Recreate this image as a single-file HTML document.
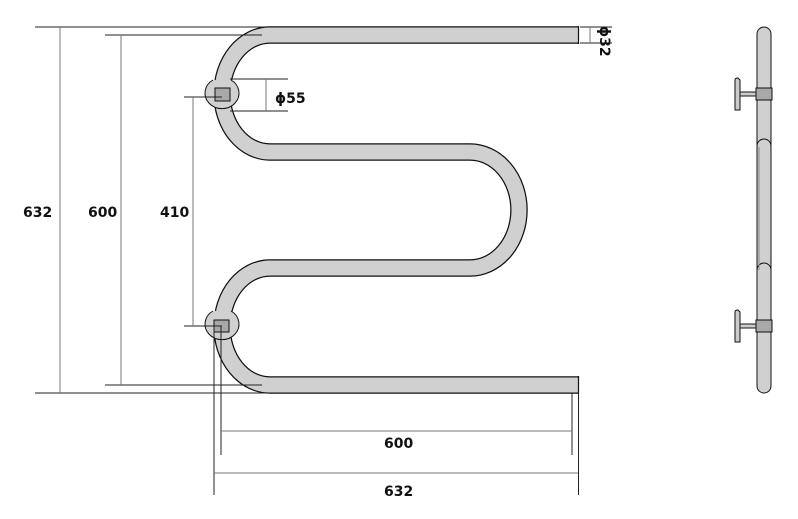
<!DOCTYPE html>
<html><head><style>
html,body{margin:0;padding:0;background:#fff;}
svg{display:block;}
text{font-family:"DejaVu Sans","Liberation Sans",sans-serif;font-weight:bold;font-size:14px;fill:#111;}
</style></head><body>
<svg width="798" height="519" viewBox="0 0 798 519" xmlns="http://www.w3.org/2000/svg">
<!-- pipe -->
<path d="M578,35 H270 A48,58.5 0 0 0 270,152 H470 A49,58 0 0 1 470,268 H270 A48,58.5 0 0 0 270,385 H578" fill="none" stroke="#111" stroke-width="17.5"/>
<path d="M578,35 H270 A48,58.5 0 0 0 270,152 H470 A49,58 0 0 1 470,268 H270 A48,58.5 0 0 0 270,385 H578" fill="none" stroke="#d0d0d0" stroke-width="15"/>
<line x1="578.5" y1="26" x2="578.5" y2="44" stroke="#111" stroke-width="1.2"/>
<line x1="578.5" y1="376" x2="578.5" y2="394" stroke="#111" stroke-width="1.2"/>
<!-- brackets -->
<g stroke="#111" stroke-width="1">
<path d="M213,80 A17,15.5 0 1 0 231,80" fill="#d0d0d0"/>
<path d="M213,311 A17,15.5 0 1 0 231,311" fill="#d0d0d0"/>
<rect x="215" y="88" width="15" height="13" fill="#a8a8a8"/>
<rect x="214" y="320" width="15" height="12" fill="#a8a8a8"/>
</g>
<!-- dimension lines -->
<g stroke="#222" stroke-width="1" fill="none">
<line x1="35" y1="27" x2="265" y2="27"/>
<line x1="35" y1="393" x2="265" y2="393"/>
<line x1="60" y1="27" x2="60" y2="393" stroke="#777"/>
<line x1="105" y1="35" x2="262" y2="35"/>
<line x1="105" y1="385" x2="262" y2="385"/>
<line x1="121" y1="35" x2="121" y2="385" stroke="#777"/>
<line x1="184" y1="97" x2="222" y2="97"/>
<line x1="184" y1="326" x2="222" y2="326"/>
<line x1="193" y1="97" x2="193" y2="326" stroke="#777"/>
<line x1="230" y1="79" x2="288" y2="79"/>
<line x1="230" y1="111" x2="288" y2="111"/>
<line x1="266" y1="79" x2="266" y2="111" stroke="#777"/>
<line x1="580" y1="27" x2="612" y2="27"/>
<line x1="580" y1="43" x2="612" y2="43"/>
<line x1="590" y1="27" x2="590" y2="43" stroke="#777"/>
<line x1="214" y1="326" x2="214" y2="495"/>
<line x1="221" y1="326" x2="221" y2="455"/>
<line x1="572" y1="393" x2="572" y2="455"/>
<line x1="578.5" y1="393" x2="578.5" y2="495"/>
<line x1="221" y1="431" x2="572" y2="431" stroke="#777"/>
<line x1="214" y1="473" x2="578" y2="473" stroke="#777"/>
</g>
<text x="23" y="217">632</text>
<text x="88" y="217">600</text>
<text x="160" y="217">410</text>
<text x="275" y="103">ϕ55</text>
<text x="384" y="448">600</text>
<text x="384" y="496">632</text>
<text transform="translate(600,26) rotate(90)">ϕ32</text>
<!-- side view -->
<g stroke="#111" stroke-width="1">
<rect x="757" y="27" width="14" height="366" rx="7" fill="#d0d0d0"/>
<path d="M757,146 A7,7 0 0 1 771,146" fill="none"/>
<path d="M757,270 A7,7 0 0 1 771,270" fill="none"/>
<line x1="759" y1="147" x2="759" y2="270" stroke="#888"/>
<rect x="740" y="92" width="17" height="4" fill="#ccc"/>
<rect x="740" y="324" width="17" height="4" fill="#ccc"/>
<path d="M735,110 L735,80 Q735,78 738,78 L740,80 L740,110 Z" fill="#ccc"/>
<path d="M735,342 L735,312 Q735,310 738,310 L740,312 L740,342 Z" fill="#ccc"/>
<rect x="756" y="88" width="16" height="12" fill="#a8a8a8"/>
<rect x="756" y="320" width="16" height="12" fill="#a8a8a8"/>
</g>
</svg>
</body></html>
